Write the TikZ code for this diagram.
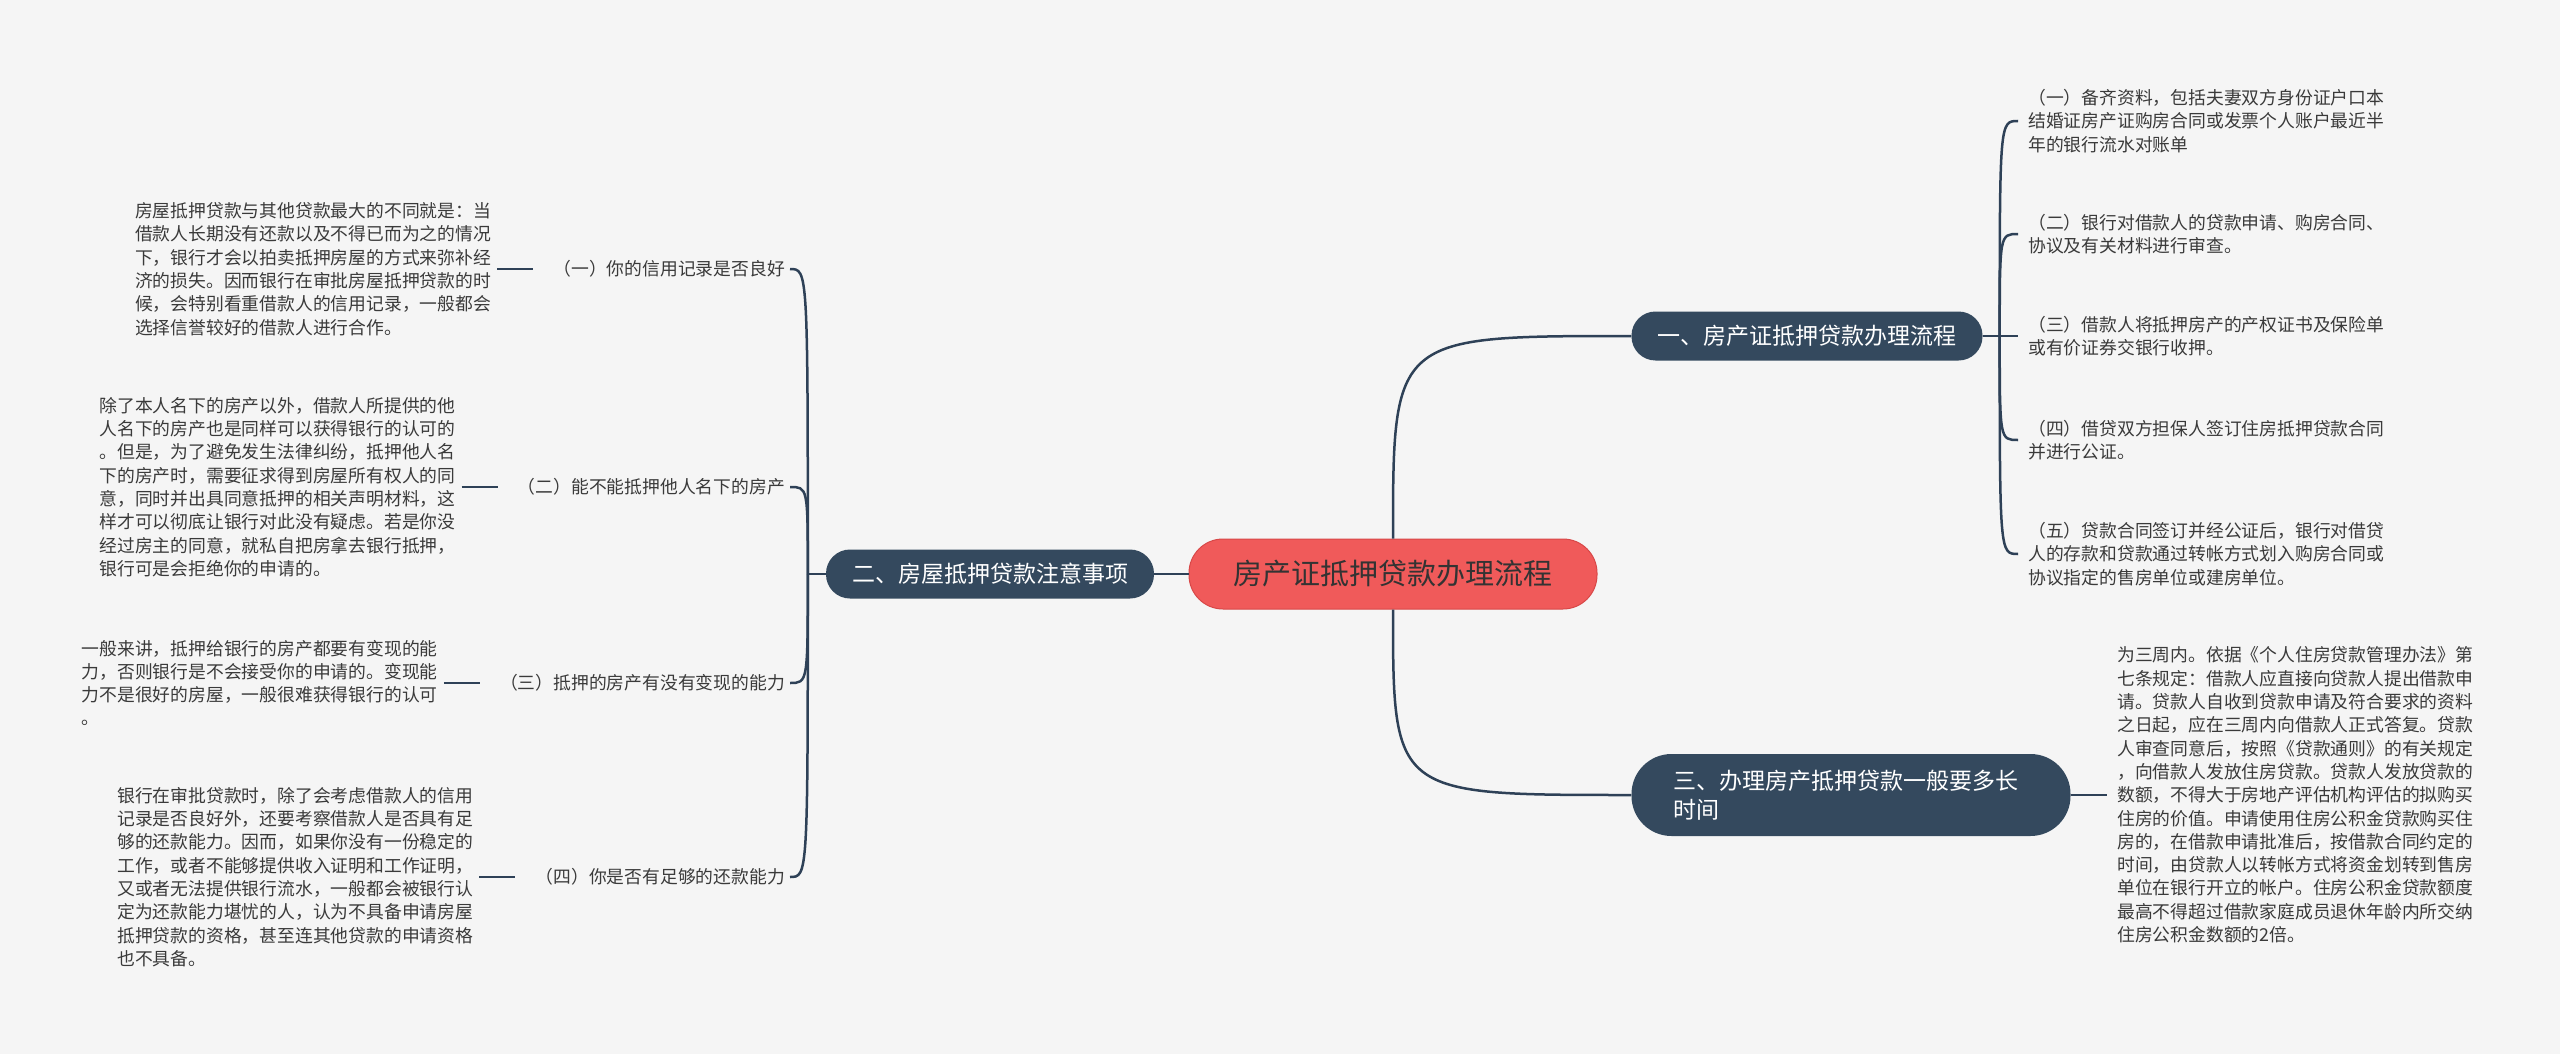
\documentclass[tikz,border=0pt]{standalone}
\usepackage{fontspec}
\setmainfont{Noto Sans CJK SC}
\usetikzlibrary{positioning}
\definecolor{pagebg}{HTML}{F5F5F5}
\definecolor{rootred}{HTML}{F05A5A}
\definecolor{rootedge}{HTML}{D84848}
\definecolor{topicblue}{HTML}{34495E}
\definecolor{linkblue}{HTML}{2E4157}
\definecolor{leaftext}{HTML}{3A3A3A}

\begin{document}
\begin{tikzpicture}[x=1pt, y=-1pt,
  root/.style={draw=rootedge, line width=1pt, fill=rootred, rounded corners=34pt,
               minimum width=408pt, minimum height=70pt, text=black!80,
               font=\fontsize{29}{35}\selectfont},
  topic/.style={fill=topicblue, rounded corners=24pt, minimum height=49pt,
                text=white, inner xsep=26pt, font=\fontsize{23}{29}\selectfont},
  subitem/.style={anchor=east, inner xsep=5pt, inner ysep=2pt, text=leaftext,
                  font=\fontsize{17.8}{23.3}\selectfont},
  para/.style={align=left, inner xsep=6pt, inner ysep=2pt, text=leaftext,
               font=\fontsize{17.8}{23.3}\selectfont},
  leaf/.style={para, anchor=west, inner xsep=10pt},
  link/.style={draw=linkblue, line width=2.5pt}
]
  \fill[pagebg] (0,0) rectangle (2560,1054);
  \useasboundingbox (0,0) rectangle (2560,1054);

  \node[root] (c) at (1393,574) {房产证抵押贷款办理流程};
  \node[topic] (b1) at (1807,336) {一、房产证抵押贷款办理流程};
  \node[topic] (b2) at (990,574) {二、房屋抵押贷款注意事项};
  \node[topic, align=left, text width=355pt, inner xsep=42pt,
        minimum height=82pt, rounded corners=40pt] (b3) at (1851,795)
        {三、办理房产抵押贷款一般要多长\\时间};

  \draw[link] (c.north) .. controls (c.north |- b1.west) .. (b1.west);
  \draw[link] (c.west) -- (b2.east);
  \draw[link] (c.south) .. controls (c.south |- b3.west) .. (b3.west);

  % right: procedure steps
  \node[leaf] (l1) at (2018,121) {（一）备齐资料，包括夫妻双方身份证户口本\\结婚证房产证购房合同或发票个人账户最近半\\年的银行流水对账单};
  \node[leaf] (l2) at (2018,234) {（二）银行对借款人的贷款申请、购房合同、\\协议及有关材料进行审查。};
  \node[leaf] (l3) at (2018,336) {（三）借款人将抵押房产的产权证书及保险单\\或有价证券交银行收押。};
  \node[leaf] (l4) at (2018,440) {（四）借贷双方担保人签订住房抵押贷款合同\\并进行公证。};
  \node[leaf] (l5) at (2018,554) {（五）贷款合同签订并经公证后，银行对借贷\\人的存款和贷款通过转帐方式划入购房合同或\\协议指定的售房单位或建房单位。};

  \coordinate (j1) at ([xshift=17pt]b1.east);
  \draw[link] (b1.east) -- (j1);
  \foreach \n in {l1,l2,l3,l4,l5}
    \draw[link] (j1) .. controls (j1 |- \n.west) .. (\n.west);

  \node[leaf] (l6) at (2107,795) {为三周内。依据《个人住房贷款管理办法》第\\七条规定：借款人应直接向贷款人提出借款申\\请。贷款人自收到贷款申请及符合要求的资料\\之日起，应在三周内向借款人正式答复。贷款\\人审查同意后，按照《贷款通则》的有关规定\\，向借款人发放住房贷款。贷款人发放贷款的\\数额，不得大于房地产评估机构评估的拟购买\\住房的价值。申请使用住房公积金贷款购买住\\房的，在借款申请批准后，按借款合同约定的\\时间，由贷款人以转帐方式将资金划转到售房\\单位在银行开立的帐户。住房公积金贷款额度\\最高不得超过借款家庭成员退休年龄内所交纳\\住房公积金数额的2倍。};
  \draw[link] (b3.east) -- (l6.west);

  % left: points to note
  \node[subitem] (s1) at (790,269) {（一）你的信用记录是否良好};
  \node[subitem] (s2) at (790,487) {（二）能不能抵押他人名下的房产};
  \node[subitem] (s3) at (790,683) {（三）抵押的房产有没有变现的能力};
  \node[subitem] (s4) at (790,877) {（四）你是否有足够的还款能力};

  \coordinate (j2) at ([xshift=-18pt]b2.west);
  \draw[link] (b2.west) -- (j2);
  \foreach \n in {s1,s2,s3,s4}
    \draw[link] (j2) .. controls (j2 |- \n.east) .. (\n.east);

  \node[para, left=51pt of s1] (p1) {房屋抵押贷款与其他贷款最大的不同就是：当\\借款人长期没有还款以及不得已而为之的情况\\下，银行才会以拍卖抵押房屋的方式来弥补经\\济的损失。因而银行在审批房屋抵押贷款的时\\候，会特别看重借款人的信用记录，一般都会\\选择信誉较好的借款人进行合作。};
  \node[para, left=51pt of s2] (p2) {除了本人名下的房产以外，借款人所提供的他\\人名下的房产也是同样可以获得银行的认可的\\。但是，为了避免发生法律纠纷，抵押他人名\\下的房产时，需要征求得到房屋所有权人的同\\意，同时并出具同意抵押的相关声明材料，这\\样才可以彻底让银行对此没有疑虑。若是你没\\经过房主的同意，就私自把房拿去银行抵押，\\银行可是会拒绝你的申请的。};
  \node[para, left=51pt of s3] (p3) {一般来讲，抵押给银行的房产都要有变现的能\\力，否则银行是不会接受你的申请的。变现能\\力不是很好的房屋，一般很难获得银行的认可\\。};
  \node[para, left=51pt of s4] (p4) {银行在审批贷款时，除了会考虑借款人的信用\\记录是否良好外，还要考察借款人是否具有足\\够的还款能力。因而，如果你没有一份稳定的\\工作，或者不能够提供收入证明和工作证明，\\又或者无法提供银行流水，一般都会被银行认\\定为还款能力堪忧的人，认为不具备申请房屋\\抵押贷款的资格，甚至连其他贷款的申请资格\\也不具备。};

  \foreach \n/\m in {p1/s1,p2/s2,p3/s3,p4/s4}
    \draw[link] (\n.east) -- ([xshift=-15pt]\m.west);
\end{tikzpicture}
\end{document}
